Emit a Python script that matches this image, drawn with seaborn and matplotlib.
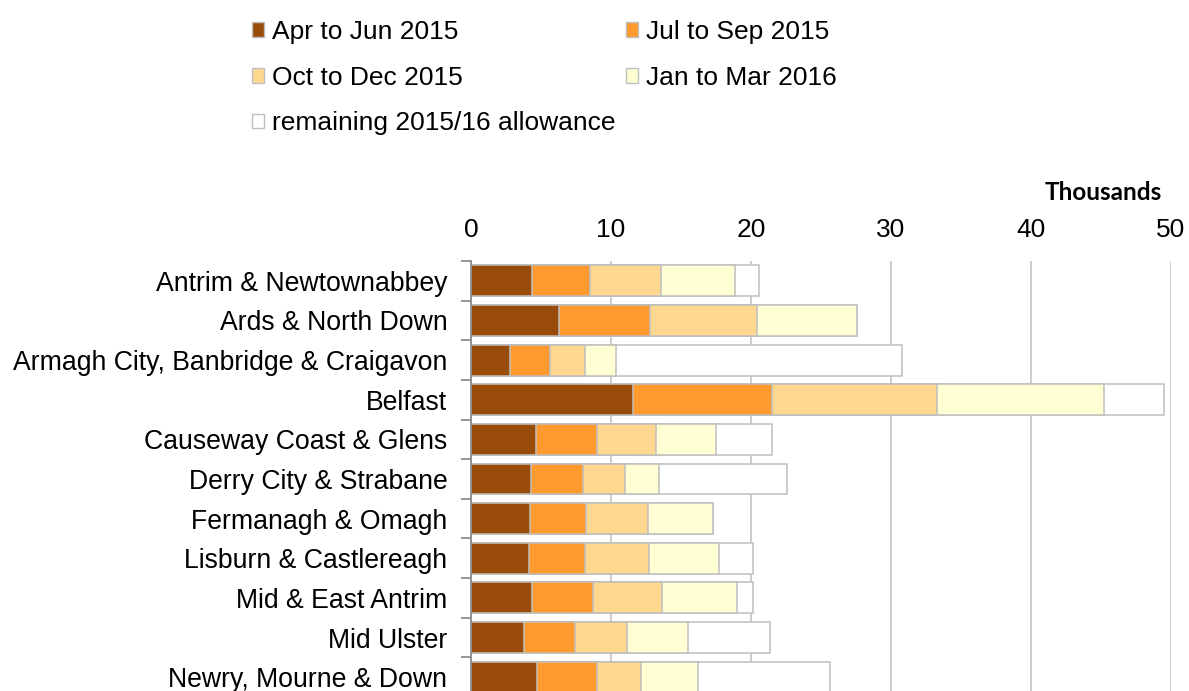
import numpy as np
import pandas as pd
import seaborn as sns
import matplotlib.pyplot as plt
from matplotlib.patches import Patch

councils = ['Antrim & Newtownabbey', 'Ards & North Down', 'Armagh City, Banbridge & Craigavon',
            'Belfast', 'Causeway Coast & Glens', 'Derry City & Strabane', 'Fermanagh & Omagh',
            'Lisburn & Castlereagh', 'Mid & East Antrim', 'Mid Ulster', 'Newry, Mourne & Down']
# thousands
apr_jun = [4.36, 6.26, 2.79, 11.55, 4.64, 4.31, 4.24, 4.14, 4.36, 3.76, 4.71]
jul_sep = [4.12, 6.50, 2.88, 9.93, 4.34, 3.67, 3.97, 4.00, 4.33, 3.64, 4.27]
oct_dec = [5.12, 7.69, 2.47, 11.78, 4.23, 3.02, 4.43, 4.55, 4.98, 3.72, 3.16]
jan_mar = [5.26, 7.15, 2.22, 11.95, 4.31, 2.43, 4.67, 5.02, 5.33, 4.40, 4.07]
remaining = [1.71, 0.00, 20.40, 4.27, 3.96, 9.17, 0.00, 2.43, 1.12, 5.81, 9.41]

series = ['Apr to Jun 2015', 'Jul to Sep 2015', 'Oct to Dec 2015', 'Jan to Mar 2016',
          'remaining 2015/16 allowance']
colors = ['#994C0A', '#FE9A2E', '#FED88F', '#FFFFD3', '#FFFFFF']

df = pd.DataFrame({'council': councils, series[0]: apr_jun, series[1]: jul_sep,
                   series[2]: oct_dec, series[3]: jan_mar, series[4]: remaining})
cum = df[series].cumsum(axis=1)

sns.set_style('white')
plt.rcParams['font.family'] = ['Liberation Sans', 'DejaVu Sans']
plt.rcParams['text.color'] = 'black'

fig = plt.figure(figsize=(11.89, 6.91), dpi=100)
ax = fig.add_axes([471 / 1189, -6 / 691, 700 / 1189, 436 / 691])

edge = '#BFBFBF'
for s, c in reversed(list(zip(series, colors))):
    sns.barplot(x=cum[s], y=df['council'], orient='h', color=c, edgecolor=edge,
                linewidth=1.1, width=0.78, saturation=1, ax=ax)

ax.set_xlim(0, 50)
ax.set_xticks([0, 10, 20, 30, 40, 50])
ax.xaxis.tick_top()
ax.tick_params(axis='x', length=0, pad=14, labelsize=19, labelcolor='black')
ax.grid(axis='x', color=edge, linewidth=1.1)
ax.set_axisbelow(True)
ax.set_xlabel('')
ax.set_ylabel('')

ax.set_yticks(np.arange(-0.5, len(councils), 1.0), minor=True)
ax.tick_params(axis='y', which='major', length=0, pad=17, labelsize=19.2, labelcolor='black')
ax.tick_params(axis='y', which='minor', length=7, width=1.3, color='#8C8C8C', left=True)
for side in ['top', 'right', 'bottom']:
    ax.spines[side].set_visible(False)
ax.spines['left'].set_color('#8C8C8C')
ax.spines['left'].set_linewidth(1.3)

fig.text(1162 / 1189, 1 - 192 / 691, 'Thousands', ha='right', va='center', color='black',
         fontsize=17.5, fontweight='bold', family=['Lato', 'DejaVu Sans'])

handles = [Patch(facecolor=c, edgecolor=edge, linewidth=1.0, label=s) for s, c in zip(series, colors)]
order = [0, 2, 4, 1, 3]
leg = fig.legend([handles[i] for i in order], [series[i] for i in order], ncol=2,
                 loc='upper left', bbox_to_anchor=(252 / 1189, 1 - 20 / 691),
                 frameon=False, fontsize=19, handlelength=0.47, handleheight=0.47,
                 handletextpad=0.28, columnspacing=0.4, labelspacing=0.82,
                 borderpad=0, borderaxespad=0)
for t in leg.get_texts():
    t.set_color('black')

fig.savefig('out.png', dpi=100)
